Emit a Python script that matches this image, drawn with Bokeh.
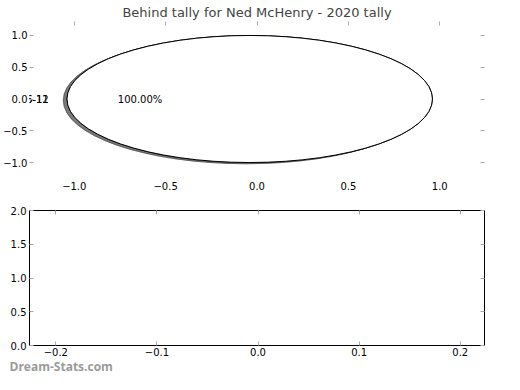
import math
from bokeh.plotting import figure
from bokeh.models import Range1d, LinearAxis, FixedTicker, Title
from bokeh.layouts import column
from bokeh.embed import file_html
from bokeh.resources import INLINE
from bokeh.core.properties import value

# ---- data ----
title_text = "Behind tally for Ned McHenry - 2020 tally"
pie_series_labels = ["6-11", "6-12"]
pie_series_values = [100.0, 100.0]   # each series is a single-slice pie
top_xticks = [-1.0, -0.5, 0.0, 0.5, 1.0]
top_xtick_labels = ["\u22121.0", "\u22120.5", "0.0", "0.5", "1.0"]
top_yticks = [-1.0, -0.5, 0.0, 0.5, 1.0]
top_ytick_labels = ["\u22121.0", "\u22120.5", "0.0", "0.5", "1.0"]
bottom_xticks = [-0.2, -0.1, 0.0, 0.1, 0.2]
bottom_xtick_labels = ["\u22120.2", "\u22120.1", "0.0", "0.1", "0.2"]
bottom_yticks = [0.0, 0.5, 1.0, 1.5, 2.0]
bottom_ytick_labels = ["0.0", "0.5", "1.0", "1.5", "2.0"]
watermark_text = "Dream-Stats.com"

FONT = "DejaVu Sans"
TICK_COLOR = "#aaaaaa"

def style_axis(ax, ticks, labels=None, tick_len=4, standoff=3):
    ax.ticker = FixedTicker(ticks=ticks)
    ax.axis_line_color = None
    ax.major_tick_in = tick_len
    ax.major_tick_out = 0
    ax.minor_tick_in = 0
    ax.minor_tick_out = 0
    ax.major_tick_line_color = TICK_COLOR
    ax.major_label_text_font = FONT
    ax.major_label_text_font_size = "10px"
    ax.major_label_text_color = "black"
    if labels is None:
        ax.major_label_overrides = {t: "" for t in ticks}
        ax.major_label_standoff = 0
    else:
        ax.major_label_overrides = {t: s for t, s in zip(ticks, labels)}
        ax.major_label_standoff = standoff

# ---- top: pie ----
top = figure(width=504, height=192, output_backend="svg", toolbar_location=None,
             x_range=Range1d(-1.245, 1.245), y_range=Range1d(-1.22, 1.22),
             x_axis_location=None, y_axis_location=None,
             min_border_left=0, min_border_right=20, min_border_top=0, min_border_bottom=0)
top.title.text = title_text
top.title.align = "center"
top.title.text_font = FONT
top.title.text_font_size = "13px"
top.title.text_font_style = "normal"
top.title.standoff = 4
top.outline_line_color = None
top.grid.visible = False

ax = LinearAxis(); style_axis(ax, top_yticks, top_ytick_labels, standoff=2); top.add_layout(ax, "left")
ax = LinearAxis(); style_axis(ax, top_xticks, top_xtick_labels, tick_len=0, standoff=5); top.add_layout(ax, "below")
ax = LinearAxis(); style_axis(ax, top_xticks); top.add_layout(ax, "above")
ax = LinearAxis(); style_axis(ax, top_yticks); top.add_layout(ax, "right")

cx, cy, r = -0.04, 0.0, 1.0
for lab, v in zip(pie_series_labels, pie_series_values):
    frac = v / v
    mid = math.pi  # mid-angle of the single full wedge
    top.ellipse(x=[cx - 0.02], y=[cy - 0.02], width=[2 * r], height=[2 * r],
                fill_color="#4d4d4d", fill_alpha=0.5, line_color="#4d4d4d", line_alpha=0.5)
    top.ellipse(x=[cx], y=[cy], width=[2 * r], height=[2 * r],
                fill_color="white", line_color="black", line_width=1)
    top.text(x=[cx + 1.1 * r * math.cos(mid)], y=[cy + 1.1 * r * math.sin(mid)], text=[lab],
             text_align="right", text_baseline="middle",
             text_font=value(FONT), text_font_size="10px", text_color="black")
    top.text(x=[cx + 0.6 * r * math.cos(mid)], y=[cy + 0.6 * r * math.sin(mid)],
             text=["%.2f%%" % (frac * 100)],
             text_align="center", text_baseline="middle",
             text_font=value(FONT), text_font_size="10px", text_color="black")

# ---- bottom: empty axes ----
bot = figure(width=504, height=182, output_backend="svg", toolbar_location=None,
             x_range=Range1d(-0.226, 0.224), y_range=Range1d(0, 2),
             x_axis_location=None, y_axis_location=None,
             min_border_left=0, min_border_right=19, min_border_top=18, min_border_bottom=0)
bot.outline_line_color = "black"
bot.outline_line_width = 1
bot.grid.visible = False

ax = LinearAxis(); style_axis(ax, bottom_yticks, bottom_ytick_labels, standoff=3); bot.add_layout(ax, "left")
ax = LinearAxis(); style_axis(ax, bottom_xticks, bottom_xtick_labels, standoff=2); bot.add_layout(ax, "below")
ax = LinearAxis(); style_axis(ax, bottom_xticks); bot.add_layout(ax, "above")
ax = LinearAxis(); style_axis(ax, bottom_yticks); bot.add_layout(ax, "right")

wm = Title(text=watermark_text, align="left", offset=-20, standoff=-3,
           text_font="Open Sans", text_font_size="12px", text_font_style="bold",
           text_color="#9a9a9a", vertical_align="middle")
bot.add_layout(wm, "below")

layout = column(top, bot, spacing=0)
open("out.html", "w").write(file_html(layout, INLINE))
